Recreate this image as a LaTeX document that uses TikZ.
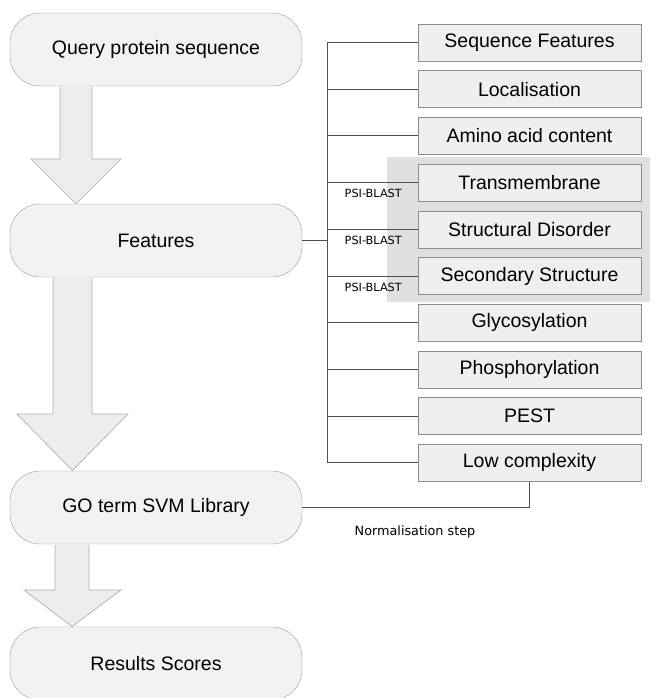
\documentclass[tikz,border=0pt]{standalone}
\usepackage{fontspec}
\setmainfont{Liberation Sans}
\newfontfamily\smallfont{DejaVu Sans}
\definecolor{pillfill}{HTML}{F2F2F2}
\definecolor{pilldraw}{HTML}{9A9A9A}
\definecolor{boxfill}{HTML}{EFEFEF}
\definecolor{boxdraw}{HTML}{8C8C8C}
\definecolor{groupgray}{HTML}{E0E0E0}
\definecolor{arrfill}{HTML}{EDEDED}
\definecolor{arrdraw}{HTML}{B0B0B0}
\definecolor{linecol}{HTML}{505050}
\tikzset{
  pill/.style={draw=pilldraw, fill=pillfill, rounded corners=30pt, minimum width=292pt, minimum height=73pt, inner sep=0pt, font=\fontsize{19.5}{23}\selectfont},
  featbox/.style={draw=boxdraw, fill=boxfill, minimum width=223pt, minimum height=37pt, inner sep=0pt, font=\fontsize{19.5}{23}\selectfont},
  bigarrow/.style={draw=arrdraw, fill=arrfill, line width=0.7pt},
  conn/.style={draw=linecol, line width=0.9pt},
  psilabel/.style={anchor=east, inner sep=0pt, font=\smallfont\fontsize{11.3}{13}\selectfont},
}
\begin{document}
\begin{tikzpicture}[x=1pt,y=-1pt]
\useasboundingbox (0,0) rectangle (650,698);
% shaded group
\fill[groupgray] (387,157) rectangle (650,302);
% left pills
\node[pill] (query) at (156,49.5) {Query protein sequence};
\node[pill] (feat) at (156,240.5) {Features};
\node[pill] (go) at (156,507.5) {GO term SVM Library};
\node[pill] (res) at (156,663.5) {Results Scores};
% big arrows
\draw[bigarrow] (60,86.5) -- (60,159) -- (31,159) -- (76,204) -- (121,159) -- (92,159) -- (92,86.5);
\draw[bigarrow] (53,277.5) -- (53,414) -- (17,414) -- (72.5,470.5) -- (128,414) -- (92,414) -- (92,277.5);
\draw[bigarrow] (55,544.5) -- (55,590) -- (24,590) -- (72,626.5) -- (121,590) -- (89,590) -- (89,544.5);
% feature boxes
\foreach \i/\t in {1/Sequence Features,2/Localisation,3/Amino acid content,4/Transmembrane,5/Structural Disorder,6/Secondary Structure,7/Glycosylation,8/Phosphorylation,9/PEST,10/Low complexity}{
  \node[featbox] (b\i) at (529.5,{42.5+46.7*(\i-1)}) {\t};
}
% bus
\coordinate (bustop) at (327,42.5);
\draw[conn] (b1.west) -- (bustop) -- (bustop |- b10.west) -- (b10.west);
\foreach \i in {2,...,9}{
  \draw[conn] (b\i.west) -- (b\i.west -| bustop);
}
\draw[conn] (feat.east) -- (feat.east -| bustop);
% PSI-BLAST labels
\node[psilabel] (p1) at (402,193) {PSI-BLAST};
\node[psilabel] (p2) at (402,240) {PSI-BLAST};
\node[psilabel] (p3) at (402,287) {PSI-BLAST};
% normalisation
\draw[conn] (b10.south) |- (go.east);
\node[font=\smallfont\fontsize{12.8}{15}\selectfont, inner sep=0pt] (norm) at (415,532) {Normalisation step};
\end{tikzpicture}
\end{document}
